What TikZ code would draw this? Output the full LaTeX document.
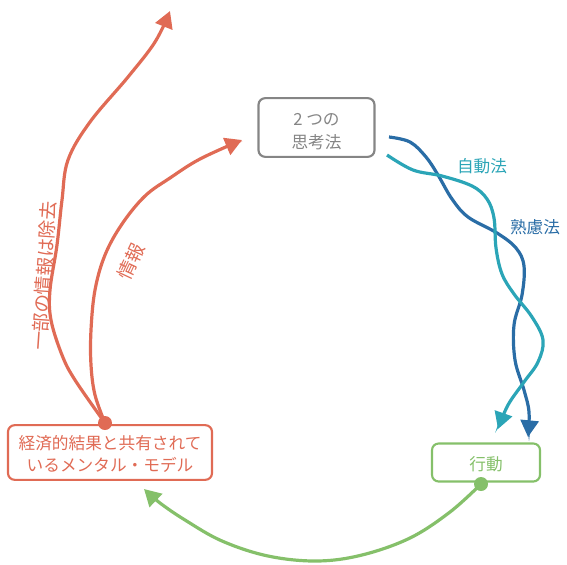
\documentclass[tikz,border=0pt]{standalone}
\usepackage{fontspec}
\setmainfont{Noto Sans CJK JP}
\usetikzlibrary{arrows.meta}
\definecolor{cred}{HTML}{E06B55}
\definecolor{cteal}{HTML}{2BA5B7}
\definecolor{cblue}{HTML}{2A6DA6}
\definecolor{cgreen}{HTML}{85C06A}
\definecolor{cgray}{HTML}{858585}
\newcommand{\lowertext}[2]{\raisebox{-#1}[\height][\depth]{#2}}
\tikzset{
  box/.style={draw, line width=1.6pt, rounded corners=5pt, align=center, inner sep=0pt,
    font=\fontsize{12.5}{16.5}\selectfont},
  dotnode/.style={circle, inner sep=0pt, minimum size=10.5pt},
  conn/.style={line width=2.4pt, -{Triangle[length=12.5pt,width=13.5pt]}},
  lbl/.style={font=\fontsize{12.5}{15}\selectfont},
  biglbl/.style={font=\fontsize{14}{16}\selectfont},
}
\begin{document}
\begin{tikzpicture}[x=0.75pt,y=-0.75pt]
\useasboundingbox (0,0) rectangle (567,564);
% nodes
\node[box, draw=cgray, text=cgray, minimum width=87pt, minimum height=44pt] (think) at (316.5,127.5) {\lowertext{3.6pt}{\begin{tabular}{@{}c@{}}2 つの\\[0.8pt]思考法\end{tabular}}};
\node[box, draw=cgreen, text=cgreen, minimum width=81pt, minimum height=28.5pt] (act) at (486,462.5) {\lowertext{1.5pt}{行動}};
\node[box, draw=cred, text=cred, minimum width=153pt, minimum height=41pt] (model) at (110,452.5) {\lowertext{3pt}{\begin{tabular}{@{}c@{}}経済的結果と共有されて\\いるメンタル・モデル\end{tabular}}};
\node[dotnode, fill=cred] (rdot) at (105,423) {};
\node[dotnode, fill=cgreen] (gdot) at (481,484) {};
% free ends
\coordinate (s1) at (389,137);
\coordinate (s2) at (387,155);
\coordinate (e1) at (528,437);
\coordinate (e2) at (498,429);
\coordinate (e3) at (170,11);
\coordinate (e4) at (242,140);
\coordinate (e5) at (144,489);
% red: part removed
\draw[conn, cred] plot[smooth, tension=0.6] coordinates {(rdot.center) (75,380) (62,355) (51,320) (50,290) (57,245) (62,200) (68,160) (90,122) (128,77) (155,42) (e3)};
% red: information
\draw[conn, cred] plot[smooth, tension=0.6] coordinates {(rdot.center) (95,395) (91,365) (91,330) (95,290) (105,255) (122,224) (145,196) (170,178) (200,159) (e4)};
% dark blue
\draw[conn, cblue] plot[smooth, tension=0.6] coordinates {(s1) (410,142) (426,157) (438,175) (452,199) (468,217) (497,233) (516,248) (524,266) (522,295) (514,325) (515,360) (524,390) (529,412) (e1)};
% teal
\draw[conn, cteal] plot[smooth, tension=0.6] coordinates {(s2) (413,170) (442,176) (472,186) (487,199) (494,218) (496,248) (502,274) (514,294) (532,317) (543,340) (538,362) (524,382) (508,405) (e2)};
% green
\draw[conn, cgreen] plot[smooth, tension=0.6] coordinates {(gdot.center) (450,512) (410,538) (362,555) (317,561) (268,556) (222,541) (185,520) (160,503) (e5)};
% labels
\node[lbl, text=cteal] (l1) at (482,166) {自動法};
\node[lbl, text=cblue] (l2) at (535,227) {熟慮法};
\node[biglbl, text=cred, rotate=86] (l3) at (44,276) {一部の情報は除去};
\node[biglbl, text=cred, rotate=65] (l4) at (131,262) {情報};
\end{tikzpicture}
\end{document}
